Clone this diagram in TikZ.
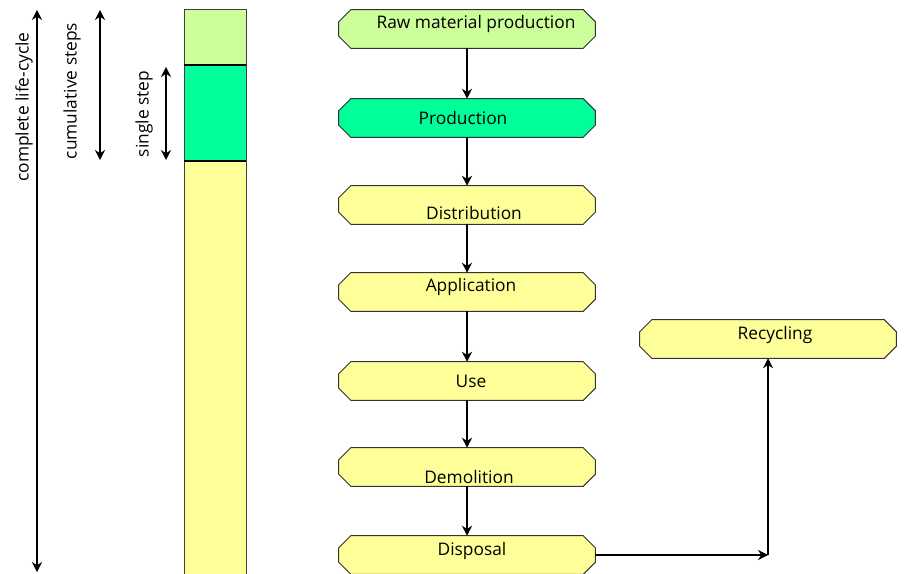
\documentclass[tikz,border=0pt]{standalone}
\usepackage{fontspec}
\setmainfont{Open Sans}
\usetikzlibrary{positioning,arrows.meta,backgrounds}
\definecolor{rawgreen}{HTML}{CCFF99}
\definecolor{prodgreen}{HTML}{00FF99}
\definecolor{stageyellow}{HTML}{FFFF99}

\begin{document}
\begin{tikzpicture}[
    x=0.75pt, y=-0.75pt,
    every node/.style={font=\fontsize{13}{15}\selectfont},
    stage/.style={rectangle, minimum width=192pt, minimum height=28.5pt, inner sep=0pt},
    stageline/.style={draw=black!80, line width=0.75pt},
    flow/.style={-{Stealth[length=7.5pt,width=7.5pt,inset=2.5pt]}, line width=0.8pt},
    span/.style={{Stealth[length=7.5pt,width=7.5pt,inset=2.5pt]}-{Stealth[length=7.5pt,width=7.5pt,inset=2.5pt]},
      line width=0.8pt},
    seg/.style={draw=black!75, line width=0.75pt},
  ]
    % Canvas: 906 x 574 px, y runs downwards
    \useasboundingbox (0,0) rectangle (906,574);

    % Stacked bar: raw material / production / rest of the life-cycle
    \draw[seg, fill=stageyellow] (184,161) rectangle (246,574);
    \draw[seg, fill=prodgreen] (184,65) rectangle (246,161);
    \draw[seg, fill=rawgreen] (184,10) rectangle (246,65);
    \draw[line width=1.5pt] (184,65) -- (246,65);
    \draw[line width=1.5pt] (184,161) -- (246,161);

    % Scope arrows with their rotated captions
    \coordinate (lifetop) at (37,10);
    \coordinate (lifebot) at (37,572);
    \draw[span] (lifetop) -- (lifebot);
    \node[rotate=90] (lifelbl) at (24,107) {complete life-cycle};

    \coordinate (cumtop) at (100,10);
    \coordinate (cumbot) at (100,160);
    \draw[span] (cumtop) -- (cumbot);
    \node[rotate=90] (cumlbl) at (72,91) {cumulative steps};

    \coordinate (singletop) at (166,67);
    \coordinate (singlebot) at (166,160);
    \draw[span] (singletop) -- (singlebot);
    \node[rotate=90] (singlelbl) at (144,114) {single step};

    % Life-cycle stages (outlines are drawn behind, see below)
    \node[stage, label={[shift={(9,-5)}]center:Raw material production}] (raw) at (467,29) {};
    \node[stage, label={[shift={(-4,0)}]center:Production}] (prod) at (467,118) {};
    \node[stage, label={[shift={(7,8)}]center:Distribution}] (distr) at (467,205) {};
    \node[stage, label={[shift={(4,-5)}]center:Application}] (appl) at (467,292) {};
    \node[stage, label={[shift={(4,0)}]center:Use}] (use) at (467,381) {};
    \node[stage, label={[shift={(2,10)}]center:Demolition}] (demol) at (467,467) {};
    \node[stage, label={[shift={(5,-4)}]center:Disposal}] (disp) at (467,555) {};
    \node[stage, label={[shift={(7,-4)}]center:Recycling}] (recy) at (768,339) {};

    % Chamfered outlines
    \begin{scope}[on background layer]
      \foreach \n/\c in {raw/rawgreen, prod/prodgreen, distr/stageyellow,
          appl/stageyellow, use/stageyellow, demol/stageyellow,
          disp/stageyellow, recy/stageyellow} {
        \draw[stageline, fill=\c]
          ([xshift=9pt]\n.north west) -- ([xshift=-9pt]\n.north east)
          -- ([yshift=-9pt]\n.north east) -- ([yshift=9pt]\n.south east)
          -- ([xshift=-9pt]\n.south east) -- ([xshift=9pt]\n.south west)
          -- ([yshift=9pt]\n.south west) -- ([yshift=-9pt]\n.north west) -- cycle;
      }
    \end{scope}

    % Flow between stages
    \draw[flow] (raw) -- (prod);
    \draw[flow] (prod) -- (distr);
    \draw[flow] (distr) -- (appl);
    \draw[flow] (appl) -- (use);
    \draw[flow] (use) -- (demol);
    \draw[flow] (demol) -- (disp);
    \coordinate (turn) at (recy.south |- disp.east);
    \draw[flow] (disp) -- (turn);
    \draw[flow] (turn) -- (recy);
\end{tikzpicture}
\end{document}
